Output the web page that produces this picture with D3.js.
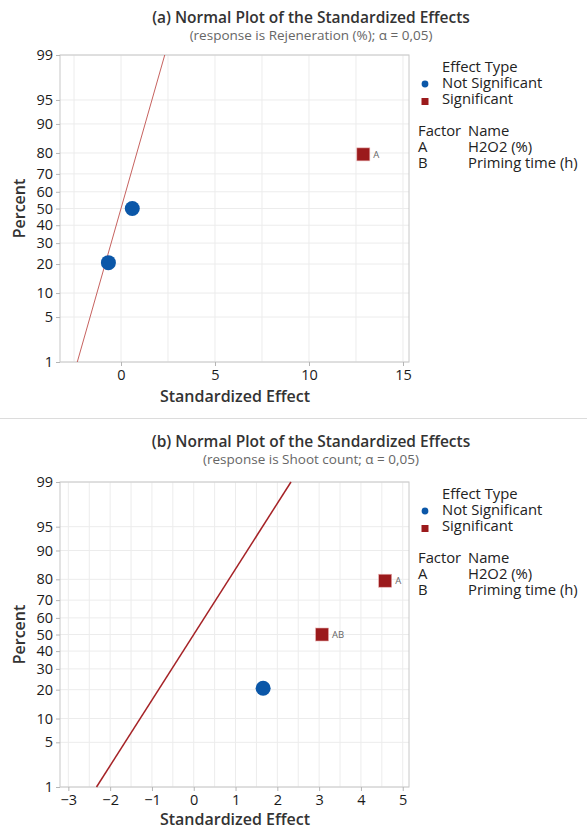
<!DOCTYPE html>
<html>
<head>
<meta charset="utf-8">
<script src="https://cdn.jsdelivr.net/npm/d3@7"></script>
<style>
  body { margin: 0; background: #fff; }
  svg text { font-family: "Open Sans", "Noto Sans", sans-serif; }
</style>
</head>
<body>
<svg id="chart" width="587" height="829"></svg>
<script>
// data
var percentTicks = [1, 5, 10, 20, 30, 40, 50, 60, 70, 80, 90, 95, 99];
var refPercent = [1, 99];

var aEffect = [-0.67, 0.60, 12.89];
var aPercent = [20.6, 50, 79.4];
var aSignificant = [false, false, true];
var aTerm = ['', '', 'A'];
var aXTicks = [0, 5, 10, 15];

var bEffect = [1.66, 3.07, 4.58];
var bPercent = [20.6, 50, 79.4];
var bSignificant = [false, true, true];
var bTerm = ['', 'AB', 'A'];
var bXTicks = [-3, -2, -1, 0, 1, 2, 3, 4, 5];

var factorCodes = ['A', 'B'];
var factorNames = ['H2O2 (%)', 'Priming time (h)'];

var blue = '#0b57a8', red = '#9b1a1c';

// inverse normal cdf (Acklam)
function probit(p) {
    var a = [-39.69683028665376, 220.9460984245205, -275.9285104469687, 138.3577518672690, -30.66479806614716, 2.506628277459239],
        b = [-54.47609879822406, 161.5858368580409, -155.6989798598866, 66.80131188771972, -13.28068155288572],
        c = [-0.007784894002430293, -0.3223964580411365, -2.400758277161838, -2.549732539343734, 4.374664141464968, 2.938163982698783],
        d = [0.007784695709041462, 0.3224671290700398, 2.445134137142996, 3.754408661907416],
        q, r;
    if (p < 0.02425) {
        q = Math.sqrt(-2 * Math.log(p));
        return (((((c[0]*q+c[1])*q+c[2])*q+c[3])*q+c[4])*q+c[5]) / ((((d[0]*q+d[1])*q+d[2])*q+d[3])*q+1);
    }
    if (p > 1 - 0.02425) return -probit(1 - p);
    q = p - 0.5; r = q * q;
    return (((((a[0]*r+a[1])*r+a[2])*r+a[3])*r+a[4])*r+a[5])*q / (((((b[0]*r+b[1])*r+b[2])*r+b[3])*r+b[4])*r+1);
}

var svg = d3.select('#chart');

// separator between the two graphs
svg.append('line')
    .attr('x1', 0).attr('x2', 587).attr('y1', 418.5).attr('y2', 418.5)
    .style('stroke', '#dcdcdc').style('stroke-width', 1);

function panel(cfg) {
    var g = svg.append('g').attr('transform', 'translate(0,' + cfg.top + ')');
    var left = 60, right = 409, h = cfg.height;

    var x = d3.scaleLinear().domain(cfg.xDomain).range([left, right]);
    var yz = d3.scaleLinear().domain([probit(0.01), probit(0.99)]).range([h, 0]);
    var y = function(p) { return yz(probit(p / 100)); };

    // titles
    g.append('text').attr('x', 311).attr('y', cfg.titleY)
        .attr('text-anchor', 'middle')
        .style('font-size', '15.5px').style('font-weight', 600).style('fill', '#333')
        .text(cfg.title);
    g.append('text').attr('x', 311).attr('y', cfg.titleY + 17)
        .attr('text-anchor', 'middle')
        .style('font-size', '13.5px').style('fill', '#666')
        .text(cfg.subtitle);

    // grid
    g.selectAll('.vgrid').data(cfg.xGrid).enter().append('line')
        .attr('x1', function(d){ return x(d); }).attr('x2', function(d){ return x(d); })
        .attr('y1', 0).attr('y2', h)
        .style('stroke', '#ececec').style('stroke-width', 1);
    g.selectAll('.hgrid').data(percentTicks).enter().append('line')
        .attr('x1', left).attr('x2', right)
        .attr('y1', function(d){ return y(d); }).attr('y2', function(d){ return y(d); })
        .style('stroke', '#ececec').style('stroke-width', 1);

    // frame
    g.append('rect').attr('x', left).attr('y', 0).attr('width', right - left).attr('height', h)
        .style('fill', 'none').style('stroke', '#c8c8c8').style('stroke-width', 1);

    // axes
    var xAxis = d3.axisBottom(x).tickValues(cfg.xTicks).tickSize(4).tickPadding(4)
        .tickFormat(d3.format('d'));
    var gx = g.append('g').attr('transform', 'translate(0,' + h + ')').call(xAxis);
    var yAxis = d3.axisLeft(yz).tickValues(percentTicks.map(function(p){ return probit(p / 100); }))
        .tickSize(4).tickPadding(3)
        .tickFormat(function(d, i){ return percentTicks[i]; });
    var gy = g.append('g').attr('transform', 'translate(' + left + ',0)').call(yAxis);
    [gx, gy].forEach(function(a) {
        a.select('.domain').remove();
        a.selectAll('line').style('stroke', '#b5b5b5');
        a.selectAll('text').style('font-size', '14.5px').style('fill', '#1a1a1a');
    });

    g.append('text').attr('x', 235).attr('y', h + cfg.xLabelDy)
        .attr('text-anchor', 'middle')
        .style('font-size', '16px').style('font-weight', 600).style('fill', '#333')
        .text('Standardized Effect');
    g.append('text')
        .attr('transform', 'translate(25,' + (h / 2) + ') rotate(-90)')
        .attr('text-anchor', 'middle')
        .style('font-size', '16px').style('font-weight', 600).style('fill', '#333')
        .text('Percent');

    // reference line
    g.append('line')
        .attr('x1', x(probit(refPercent[0] / 100))).attr('y1', y(refPercent[0]))
        .attr('x2', x(probit(refPercent[1] / 100))).attr('y2', y(refPercent[1]))
        .style('stroke', cfg.lineColor).style('stroke-width', cfg.lineWidth);

    // points
    var pts = cfg.effect.map(function(e, i) {
        return { e: e, p: cfg.percent[i], sig: cfg.sig[i], term: cfg.term[i] };
    });
    g.selectAll('.nsig').data(pts.filter(function(d){ return !d.sig; })).enter()
        .append('circle')
        .attr('cx', function(d){ return x(d.e); }).attr('cy', function(d){ return y(d.p); })
        .attr('r', 7.5).style('fill', blue);
    var s = 13;
    var sq = g.selectAll('.sig').data(pts.filter(function(d){ return d.sig; })).enter();
    sq.append('rect')
        .attr('x', function(d){ return x(d.e) - s / 2; }).attr('y', function(d){ return y(d.p) - s / 2; })
        .attr('width', s).attr('height', s)
        .style('fill', red).style('stroke', '#e8b0b0').style('stroke-width', 0.6);
    sq.append('text')
        .attr('x', function(d){ return x(d.e) + 10; }).attr('y', function(d){ return y(d.p) + 3.5; })
        .style('font-size', '9.5px').style('fill', '#666')
        .text(function(d){ return d.term; });

    // legend
    var lg = g.append('g');
    lg.append('text').attr('x', 442).attr('y', 17).text('Effect Type');
    lg.append('circle').attr('cx', 425).attr('cy', 29).attr('r', 3.4).style('fill', blue);
    lg.append('text').attr('x', 442).attr('y', 33).text('Not Significant');
    lg.append('rect').attr('x', 421.5).attr('y', 43).attr('width', 7).attr('height', 7).style('fill', red);
    lg.append('text').attr('x', 442).attr('y', 49).text('Significant');
    lg.append('text').attr('x', 418).attr('y', 81).text('Factor');
    lg.append('text').attr('x', 468).attr('y', 81).text('Name');
    lg.selectAll('.fc').data(factorCodes).enter().append('text')
        .attr('x', 418).attr('y', function(d, i){ return 97 + i * 16; }).text(function(d){ return d; });
    lg.selectAll('.fn').data(factorNames).enter().append('text')
        .attr('x', 468).attr('y', function(d, i){ return 97 + i * 16; }).text(function(d){ return d; });
    lg.selectAll('text').style('font-size', '14.8px').style('fill', '#222');
}

panel({
    top: 55, height: 307, titleY: -32, xLabelDy: 40,
    title: '(a) Normal Plot of the Standardized Effects',
    subtitle: '(response is Rejeneration (%); \u03b1 = 0,05)',
    xDomain: [-3.245, 15.32], xTicks: aXTicks, xGrid: d3.range(-2.5, 15.1, 2.5),
    effect: aEffect, percent: aPercent, sig: aSignificant, term: aTerm,
    lineColor: '#c0504d', lineWidth: 0.9
});

panel({
    top: 482, height: 305, titleY: -35, xLabelDy: 38,
    title: '(b) Normal Plot of the Standardized Effects',
    subtitle: '(response is Shoot count; \u03b1 = 0,05)',
    xDomain: [-3.2, 5.15], xTicks: bXTicks, xGrid: d3.range(-3, 5.1, 0.5),
    effect: bEffect, percent: bPercent, sig: bSignificant, term: bTerm,
    lineColor: '#a52226', lineWidth: 1.5
});
</script>
</body>
</html>
